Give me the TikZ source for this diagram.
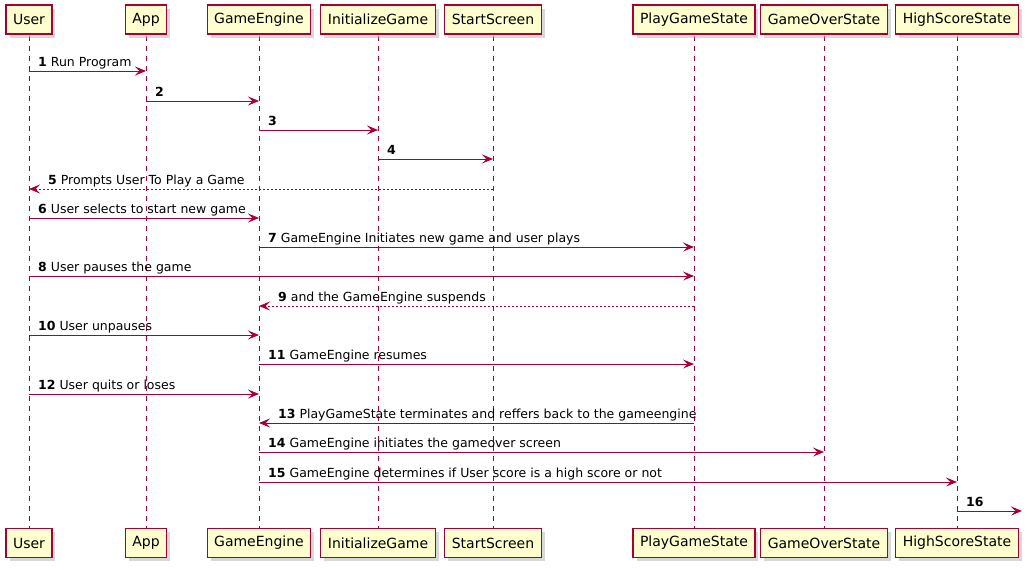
\documentclass[tikz,border=0pt]{standalone}
\usepackage{fontspec}
\setmainfont{DejaVu Sans}
\usetikzlibrary{arrows.meta,shadows}
\definecolor{umlred}{HTML}{A80036}
\definecolor{umlfill}{HTML}{FEFECE}
\tikzset{
  part/.style={draw=umlred, line width=1.1pt, fill=umlfill, inner xsep=7pt, inner ysep=0pt,
    minimum height=29pt, font=\fontsize{14}{16}\selectfont,
    drop shadow={shadow xshift=3.5pt, shadow yshift=-3.5pt, fill=black!30, opacity=0.5}},
  life/.style={draw=umlred, line width=0.8pt, dash pattern=on 5pt off 5pt},
  msg/.style={draw=umlred, line width=0.9pt, -{Stealth[length=11pt,width=9pt,inset=4.5pt]}},
  ret/.style={msg, dash pattern=on 2pt off 2pt},
  lbl/.style={anchor=base west, inner sep=0pt, font=\fontsize{12.5}{14}\selectfont}
}
\begin{document}
\begin{tikzpicture}[x=1pt,y=-1pt]
\useasboundingbox (0,0) rectangle (1027,571);
% lifeline x positions
\coordinate (xU) at (29,0);
\coordinate (xA) at (146,0);
\coordinate (xG) at (259,0);
\coordinate (xI) at (378,0);
\coordinate (xS) at (493,0);
\coordinate (xP) at (694,0);
\coordinate (xO) at (824,0);
\coordinate (xH) at (957,0);
% lifelines
\coordinate (ltop) at (0,36);
\coordinate (lbot) at (0,528);
\foreach \p in {U,A,G,I,S,P,O,H}{
  \draw[life] (x\p |- ltop) -- (x\p |- lbot);
}
% participants
\foreach \p/\t in {U/User,A/App,G/GameEngine,I/InitializeGame,S/StartScreen,P/PlayGameState,O/GameOverState,H/HighScoreState}{
  \node[part] (\p top) at (x\p |- 0,19.5) {\t};
  \node[part] (\p bot) at (x\p |- 0,543) {\t};
}
% message rows
\foreach \i/\y in {1/71,2/101,3/130,4/159,5/189,6/218,7/247,8/276,9/306,10/335,11/364,12/394,13/423,14/452,15/482,16/511}{
  \coordinate (m\i) at (0,\y);
}
\coordinate (end16) at (1022,511);
% messages
\draw[msg] (xU |- m1) -- (xA |- m1);
\node[lbl] at ([shift={(9,-5)}]xU |- m1) {\textbf{1} Run Program};
\draw[msg] (xA |- m2) -- (xG |- m2);
\node[lbl] at ([shift={(9,-5)}]xA |- m2) {\textbf{2}};
\draw[msg] (xG |- m3) -- (xI |- m3);
\node[lbl] at ([shift={(9,-5)}]xG |- m3) {\textbf{3}};
\draw[msg] (xI |- m4) -- (xS |- m4);
\node[lbl] at ([shift={(9,-5)}]xI |- m4) {\textbf{4}};
\draw[ret] (xS |- m5) -- (xU |- m5);
\node[lbl] at ([shift={(19,-5)}]xU |- m5) {\textbf{5} Prompts User To Play a Game};
\draw[msg] (xU |- m6) -- (xG |- m6);
\node[lbl] at ([shift={(9,-5)}]xU |- m6) {\textbf{6} User selects to start new game};
\draw[msg] (xG |- m7) -- (xP |- m7);
\node[lbl] at ([shift={(9,-5)}]xG |- m7) {\textbf{7} GameEngine Initiates new game and user plays};
\draw[msg] (xU |- m8) -- (xP |- m8);
\node[lbl] at ([shift={(9,-5)}]xU |- m8) {\textbf{8} User pauses the game};
\draw[ret] (xP |- m9) -- (xG |- m9);
\node[lbl] at ([shift={(19,-5)}]xG |- m9) {\textbf{9} and the GameEngine suspends};
\draw[msg] (xU |- m10) -- (xG |- m10);
\node[lbl] at ([shift={(9,-5)}]xU |- m10) {\textbf{10} User unpauses};
\draw[msg] (xG |- m11) -- (xP |- m11);
\node[lbl] at ([shift={(9,-5)}]xG |- m11) {\textbf{11} GameEngine resumes};
\draw[msg] (xU |- m12) -- (xG |- m12);
\node[lbl] at ([shift={(9,-5)}]xU |- m12) {\textbf{12} User quits or loses};
\draw[msg] (xP |- m13) -- (xG |- m13);
\node[lbl] at ([shift={(19,-5)}]xG |- m13) {\textbf{13} PlayGameState terminates and reffers back to the gameengine};
\draw[msg] (xG |- m14) -- (xO |- m14);
\node[lbl] at ([shift={(9,-5)}]xG |- m14) {\textbf{14} GameEngine initiates the gameover screen};
\draw[msg] (xG |- m15) -- (xH |- m15);
\node[lbl] at ([shift={(9,-5)}]xG |- m15) {\textbf{15} GameEngine determines if User score is a high score or not};
\draw[msg] (xH |- m16) -- (end16);
\node[lbl] at ([shift={(9,-5)}]xH |- m16) {\textbf{16}};
\end{tikzpicture}
\end{document}
